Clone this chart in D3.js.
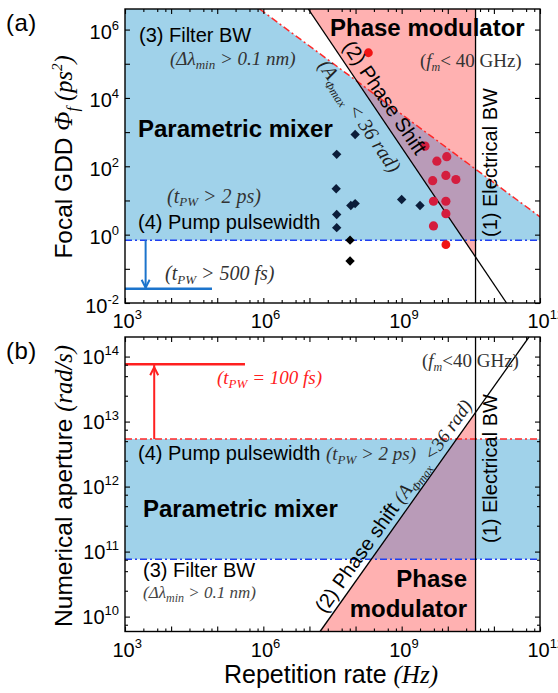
<!DOCTYPE html>
<html><head><meta charset="utf-8">
<script src="https://cdn.jsdelivr.net/npm/d3@7"></script>
<style>body{margin:0;background:#fff}svg{display:block}</style>
</head><body>
<svg id="c" width="558" height="693"></svg>
<script>
// ---------- data ----------
const xTickValues = [1e3, 1e6, 1e9, 1e12];
const xTickExp = ["3", "6", "9", "12"];
const yTicksA = [1e-2, 1e0, 1e2, 1e4, 1e6];
const yTicksAExp = ["-2", "0", "2", "4", "6"];
const yTicksB = [1e10, 1e11, 1e12, 1e13, 1e14];
const yTicksBExp = ["10", "11", "12", "13", "14"];

// boundaries (panel a: focal GDD in ps^2, panel b: numerical aperture in rad/s)
const electricalBW = 4e10;            // (1) f_m < 40 GHz
const phaseGDDk = Math.pow(10, 20.55); // (2) GDD = k / f^2
const filterGDDk = Math.pow(10, 12.52);// (3) GDD = k / f
const pumpGDD = 0.68;                  // (4) t_PW > 2 ps
const pumpGDD500fs = 0.026;            // t_PW > 500 fs
const phaseNAk = Math.pow(10, 2.54);   // (2) NA = k * f
const filterNA = 7.6e10;               // (3)
const pumpNA = 5.4e12;                 // (4) t_PW > 2 ps
const pumpNA100fs = 7.6e13;            // t_PW = 100 fs
const arrowRateA = 2.8e3, lineEndA = 7.7e4;
const arrowRateB = 4.3e3, lineEndB = 4e5;

// parametric mixer experiments (diamonds)
const mixerRate = [9.8e7, 3.9e7, 3.8e7, 7.9e7, 9.8e7, 3.9e7, 3.9e7, 1.0e9, 2.5e9];
const mixerGDD  = [851, 224, 22, 7.1, 8.1, 3.9, 1.6, 10.7, 7.1];
const mixerLowRate = [7.6e7, 7.6e7];
const mixerLowGDD  = [0.69, 0.17];
// phase modulator experiments (circles)
const modRate = [3.2e9, 5.8e9, 9.5e9, 4.7e9, 9.1e9, 1.5e10, 4.9e9, 9.1e9, 9.1e9, 4.9e9];
const modGDD  = [389, 141, 191, 38, 54, 41, 9.5, 9.5, 4.1, 1.8];
const modBrightRate = [1.9e8, 9.1e9];
const modBrightGDD  = [2.1e5, 0.51];

// ---------- styles ----------
const SANS = "'Liberation Sans', Arial, sans-serif";
const SERIF = "'Liberation Serif', 'Times New Roman', serif";
const BLUE = "#a0d2ea", PINK = "#ffb1b1", PURPLE = "#b99bb8";
const DASHBLUE = "#1f3ff0", DASHRED = "#ff2828";
const DASH = "7,3,2,3";

const svg = d3.select("#c");

function rich(t, segs) {
  let cur = 0;
  segs.forEach(s => {
    const ts = t.append("tspan").text(s.t);
    const off = s.sub ? (s.off ?? 5) : s.sup ? -(s.off ?? 8) : 0;
    if (off !== cur) ts.attr("dy", off - cur);
    cur = off;
    if (s.f) ts.attr("font-family", s.f);
    if (s.i) ts.attr("font-style", "italic");
    if (s.n) ts.attr("font-style", "normal");
    if (s.s) ts.attr("font-size", s.s);
    if (s.w) ts.attr("font-weight", s.w);
    if (s.c) ts.attr("fill", s.c);
  });
  return t;
}
function label(g, x, y, segs, o = {}) {
  const t = g.append("text")
    .attr("font-family", o.f || SANS).attr("font-size", o.s || 20)
    .attr("fill", o.c || "#000");
  if (o.rot !== undefined) t.attr("transform", `translate(${x},${y}) rotate(${o.rot})`);
  else t.attr("x", x).attr("y", y);
  if (o.w) t.attr("font-weight", o.w);
  if (o.i) t.attr("font-style", "italic");
  if (o.anchor) t.attr("text-anchor", o.anchor);
  if (o.ls) t.attr("letter-spacing", o.ls);
  return rich(t, segs);
}
function alongText(g, p1, p2, dist, off, segs, o = {}) {
  const a = Math.atan2(p2[1] - p1[1], p2[0] - p1[0]);
  const ux = Math.cos(a), uy = Math.sin(a), vx = Math.sin(a), vy = -Math.cos(a);
  const x = p1[0] + ux * dist + vx * off, y = p1[1] + uy * dist + vy * off;
  return label(g, x, y, segs, Object.assign({}, o, {rot: a * 180 / Math.PI}));
}
const line = d3.line();

function axes(g, x, y, labelVals, labelExp, yLabelShift, yMinor) {
  const [x0, x1] = x.range(), [yb, yt] = y.range();
  const xDec = d3.range(3, 13).map(e => Math.pow(10, e));
  const xMin = d3.range(3, 12).flatMap(e => [2.5, 5, 7.5].map(m => m * Math.pow(10, e)));
  const ld = Math.log10(y.domain()[0]), hd = Math.log10(y.domain()[1]);
  const yDec = d3.range(Math.ceil(ld), Math.floor(hd) + 1).map(e => Math.pow(10, e));
  const yMin = yMinor ? d3.range(Math.floor(ld), Math.ceil(hd)).flatMap(e => [2.5, 5, 7.5].map(m => m * Math.pow(10, e))).filter(v => v > y.domain()[0] && v < y.domain()[1]) : [];
  const ax = [
    [d3.axisBottom(x).tickValues(xDec).tickSizeInner(-5), `translate(0,${yb})`],
    [d3.axisBottom(x).tickValues(xMin).tickSizeInner(-3), `translate(0,${yb})`],
    [d3.axisTop(x).tickValues(xDec).tickSizeInner(-5), `translate(0,${yt})`],
    [d3.axisTop(x).tickValues(xMin).tickSizeInner(-3), `translate(0,${yt})`],
    [d3.axisLeft(y).tickValues(yDec).tickSizeInner(-5), `translate(${x0},0)`],
    [d3.axisRight(y).tickValues(yDec).tickSizeInner(-5), `translate(${x1},0)`],
    [d3.axisLeft(y).tickValues(yMin).tickSizeInner(-3), `translate(${x0},0)`],
    [d3.axisRight(y).tickValues(yMin).tickSizeInner(-3), `translate(${x1},0)`]
  ];
  ax.forEach(([a, tr]) => {
    const gg = g.append("g").attr("transform", tr).call(a.tickSizeOuter(0).tickFormat(""));
    gg.select(".domain").remove();
    gg.selectAll(".tick line").attr("stroke", "#000").attr("stroke-width", 1.1);
  });
  // x labels
  const gx = g.append("g").attr("transform", `translate(0,${yb})`)
    .call(d3.axisBottom(x).tickValues(xTickValues).tickSize(0).tickFormat(""));
  gx.select(".domain").remove();
  gx.selectAll(".tick text").each(function(d) {
    const t = d3.select(this).text(null).attr("y", 25).attr("dy", null).attr("x", -13)
      .attr("text-anchor", "start").attr("font-family", SANS).attr("font-size", 20).attr("fill", "#000");
    t.append("tspan").text("10");
    t.append("tspan").attr("dy", -9).attr("font-size", 13).text(xTickExp[xTickValues.indexOf(d)]);
  });
  // y labels
  const gy = g.append("g").attr("transform", `translate(${x0},0)`)
    .call(d3.axisLeft(y).tickValues(labelVals).tickSize(0).tickFormat(""));
  gy.select(".domain").remove();
  gy.selectAll(".tick text").each(function(d) {
    const t = d3.select(this).text(null).attr("y", yLabelShift).attr("dy", null).attr("x", -6)
      .attr("text-anchor", "end").attr("font-family", SANS).attr("font-size", 20).attr("fill", "#000");
    t.append("tspan").text("10");
    t.append("tspan").attr("dy", -9).attr("font-size", 13).text(labelExp[labelVals.indexOf(d)]);
  });
  g.append("rect").attr("x", x0).attr("y", yt).attr("width", x1 - x0).attr("height", yb - yt)
    .attr("fill", "none").attr("stroke", "#000").attr("stroke-width", 1.4);
}

// ================= PANEL A =================
const xA = d3.scaleLog().domain([1e3, 1e12]).range([125, 540]);
const yA = d3.scaleLog().domain([1e-2, 4e6]).range([303, 9]);
const gA = svg.append("g");
const defs = svg.append("defs");
defs.append("clipPath").attr("id", "clipA").append("rect")
  .attr("x", 125).attr("y", 9).attr("width", 415).attr("height", 294);
const [aYmin, aYmax] = yA.domain(), [aXmin, aXmax] = xA.domain();
const fTopFilter = filterGDDk / aYmax;
const fTopPhase = Math.sqrt(phaseGDDk / aYmax);
const fBotPhase = Math.sqrt(phaseGDDk / aYmin);
const P = (f, v) => [xA(f), yA(v)];
const blueA = [P(aXmin, aYmax), P(fTopFilter, aYmax), P(aXmax, filterGDDk / aXmax), P(aXmax, pumpGDD), P(aXmin, pumpGDD)];
const pinkA = [P(fTopPhase, aYmax), P(electricalBW, aYmax), P(electricalBW, phaseGDDk / electricalBW / electricalBW)];
defs.append("clipPath").attr("id", "blueA").append("path").attr("d", line(blueA) + "Z");
const pa = gA.append("g").attr("clip-path", "url(#clipA)");
pa.append("path").attr("d", line(blueA) + "Z").attr("fill", BLUE);
pa.append("path").attr("d", line(pinkA) + "Z").attr("fill", PINK);
pa.append("path").attr("d", line(pinkA) + "Z").attr("fill", PURPLE).attr("clip-path", "url(#blueA)");
// boundary lines
pa.append("path").attr("d", line([P(fTopFilter, aYmax), P(aXmax, filterGDDk / aXmax)]))
  .attr("stroke", DASHRED).attr("stroke-width", 1.5).attr("stroke-dasharray", DASH).attr("fill", "none");
pa.append("path").attr("d", line([P(aXmin, pumpGDD), P(aXmax, pumpGDD)]))
  .attr("stroke", DASHBLUE).attr("stroke-width", 1.5).attr("stroke-dasharray", DASH).attr("fill", "none");
const phaseA1 = P(fTopPhase, aYmax), phaseA2 = P(fBotPhase, aYmin);
pa.append("path").attr("d", line([phaseA1, phaseA2])).attr("stroke", "#000").attr("stroke-width", 1.3).attr("fill", "none");
pa.append("path").attr("d", line([P(electricalBW, aYmin), P(electricalBW, aYmax)])).attr("stroke", "#000").attr("stroke-width", 1.3);
// 500 fs arrow
const arrowBlue = "#1c74cc";
pa.append("path").attr("d", line([P(aXmin, pumpGDD500fs), P(lineEndA, pumpGDD500fs)])).attr("stroke", arrowBlue).attr("stroke-width", 2.5);
pa.append("path").attr("d", line([P(arrowRateA, pumpGDD), P(arrowRateA, pumpGDD500fs)])).attr("stroke", arrowBlue).attr("stroke-width", 2);
{
  const [ax, ay] = P(arrowRateA, pumpGDD500fs);
  pa.append("path").attr("d", `M${ax - 4},${ay - 9}L${ax},${ay - 1}L${ax + 4},${ay - 9}`)
    .attr("stroke", arrowBlue).attr("stroke-width", 2).attr("fill", "none");
}
// markers
const diamond = d3.symbol().type(d3.symbolSquare).size(44);
pa.selectAll(".dm").data(mixerRate.map((r, i) => [r, mixerGDD[i]])).join("path")
  .attr("d", diamond).attr("fill", "#0b1d3a")
  .attr("transform", d => `translate(${xA(d[0])},${yA(d[1])}) rotate(45)`);
pa.selectAll(".dl").data(mixerLowRate.map((r, i) => [r, mixerLowGDD[i]])).join("path")
  .attr("d", diamond).attr("fill", "#000")
  .attr("transform", d => `translate(${xA(d[0])},${yA(d[1])}) rotate(45)`);
pa.selectAll(".cm").data(modRate.map((r, i) => [r, modGDD[i]])).join("circle")
  .attr("cx", d => xA(d[0])).attr("cy", d => yA(d[1])).attr("r", 4.6).attr("fill", "#d41d3e");
pa.selectAll(".cb").data(modBrightRate.map((r, i) => [r, modBrightGDD[i]])).join("circle")
  .attr("cx", d => xA(d[0])).attr("cy", d => yA(d[1])).attr("r", 4.4).attr("fill", "#f01414");

// texts panel A
label(gA, 6, 31, [{t: "(a)"}], {s: 24, ls: 0.5});
label(gA, 72, 157, [
  {t: "Focal GDD "},
  {t: "Φ", f: SERIF, i: true, s: 25},
  {t: "f", f: SERIF, i: true, s: 16, sub: true, off: 6},
  {t: " (ps", f: SERIF, i: true},
  {t: "2", f: SERIF, i: true, s: 15, sup: true, off: 10},
  {t: ")", f: SERIF, i: true}
], {s: 24.5, rot: -90, anchor: "middle"});
label(gA, 139, 42, [{t: "(3) Filter BW"}]);
label(gA, 170, 65, [{t: "(Δλ"}, {t: "min", s: 13, sub: true, off: 4}, {t: " > 0.1 nm)"}], {f: SERIF, i: true, s: 19, c: "#333"});
label(gA, 138, 137, [{t: "Parametric mixer"}], {w: "bold", s: 24});
label(gA, 167, 203, [{t: "(t"}, {t: "PW", s: 13, sub: true, off: 3}, {t: " > 2 ps)"}], {f: SERIF, i: true, s: 20, c: "#333"});
label(gA, 138, 229, [{t: "(4) Pump pulsewidth"}]);
label(gA, 165, 280, [{t: "(t"}, {t: "PW", s: 13, sub: true, off: 4}, {t: " > 500 fs)"}], {f: SERIF, i: true, s: 20, c: "#333"});
label(gA, 330, 36, [{t: "Phase modulator"}], {w: "bold", s: 24});
label(gA, 420, 67, [{t: "("}, {t: "f", i: true}, {t: "m", i: true, s: 12, sub: true, off: 4}, {t: "< 40 GHz)"}], {f: SERIF, s: 19, c: "#333"});
label(gA, 497, 237, [{t: "(1) Electrical BW"}], {rot: -90});
alongText(gA, phaseA1, phaseA2, 50, 7, [{t: "(2) Phase Shift"}], {s: 20});
alongText(gA, phaseA1, phaseA2, 52, -24, [
  {t: "(A"}, {t: "Φmax", s: 12, sub: true, off: 5}, {t: " < 36 rad)"}
], {f: SERIF, i: true, s: 20, c: "#222"});
axes(gA, xA, yA, yTicksA, yTicksAExp, 9, false);

// ================= PANEL B =================
const xB = d3.scaleLog().domain([1e3, 1e12]).range([125, 540]);
const yB = d3.scaleLog().domain([5.9e9, 2e14]).range([631.5, 337]);
const gB = svg.append("g");
defs.append("clipPath").attr("id", "clipB").append("rect")
  .attr("x", 125).attr("y", 337).attr("width", 415).attr("height", 294.5);
const [bYmin, bYmax] = yB.domain(), [bXmin, bXmax] = xB.domain();
const Q = (f, v) => [xB(f), yB(v)];
const fBotPhaseB = bYmin / phaseNAk, fTopPhaseB = bYmax / phaseNAk;
const blueB = [Q(bXmin, filterNA), Q(bXmax, filterNA), Q(bXmax, pumpNA), Q(bXmin, pumpNA)];
const pinkB = [Q(fBotPhaseB, bYmin), Q(electricalBW, bYmin), Q(electricalBW, phaseNAk * electricalBW)];
defs.append("clipPath").attr("id", "blueB").append("path").attr("d", line(blueB) + "Z");
const pb = gB.append("g").attr("clip-path", "url(#clipB)");
pb.append("path").attr("d", line(blueB) + "Z").attr("fill", BLUE);
pb.append("path").attr("d", line(pinkB) + "Z").attr("fill", PINK);
pb.append("path").attr("d", line(pinkB) + "Z").attr("fill", PURPLE).attr("clip-path", "url(#blueB)");
pb.append("path").attr("d", line([Q(bXmin, pumpNA), Q(bXmax, pumpNA)]))
  .attr("stroke", DASHRED).attr("stroke-width", 1.5).attr("stroke-dasharray", DASH).attr("fill", "none");
pb.append("path").attr("d", line([Q(bXmin, filterNA), Q(bXmax, filterNA)]))
  .attr("stroke", DASHBLUE).attr("stroke-width", 1.5).attr("stroke-dasharray", DASH).attr("fill", "none");
const phaseB1 = Q(fBotPhaseB, bYmin), phaseB2 = Q(fTopPhaseB, bYmax);
pb.append("path").attr("d", line([phaseB1, phaseB2])).attr("stroke", "#000").attr("stroke-width", 1.3).attr("fill", "none");
pb.append("path").attr("d", line([Q(electricalBW, bYmin), Q(electricalBW, bYmax)])).attr("stroke", "#000").attr("stroke-width", 1.3);
const arrowRed = "#ff2020";
pb.append("path").attr("d", line([Q(bXmin, pumpNA100fs), Q(lineEndB, pumpNA100fs)])).attr("stroke", arrowRed).attr("stroke-width", 2.5);
pb.append("path").attr("d", line([Q(arrowRateB, pumpNA), Q(arrowRateB, pumpNA100fs)])).attr("stroke", arrowRed).attr("stroke-width", 2);
{
  const [ax, ay] = Q(arrowRateB, pumpNA100fs);
  pb.append("path").attr("d", `M${ax - 4},${ay + 11}L${ax},${ay + 3}L${ax + 4},${ay + 11}`)
    .attr("stroke", arrowRed).attr("stroke-width", 2).attr("fill", "none");
}
label(gB, 6, 359, [{t: "(b)"}], {s: 24, ls: 0.5});
label(gB, 72, 486, [
  {t: "Numerical aperture "},
  {t: "(rad/s)", f: SERIF, i: true}
], {s: 24.5, rot: -90, anchor: "middle"});
label(gB, 217, 384, [{t: "(t"}, {t: "PW", s: 13, sub: true, off: 4}, {t: " = 100 fs)"}], {f: SERIF, i: true, s: 19, c: "#ff2020"});
label(gB, 422, 367, [{t: "("}, {t: "f", i: true}, {t: "m", i: true, s: 12, sub: true, off: 4}, {t: "<40 GHz)"}], {f: SERIF, s: 19, c: "#333"});
label(gB, 138, 460, [
  {t: "(4) Pump pulsewidth "},
  {t: "(t", f: SERIF, i: true, s: 19, c: "#333"}, {t: "PW", f: SERIF, i: true, s: 13, c: "#333", sub: true, off: 4},
  {t: " > 2 ps)", f: SERIF, i: true, s: 19, c: "#333"}
]);
label(gB, 143, 517, [{t: "Parametric mixer"}], {w: "bold", s: 24});
label(gB, 143, 577, [{t: "(3) Filter BW"}]);
label(gB, 143, 598, [{t: "(Δλ"}, {t: "min", s: 12, sub: true, off: 4}, {t: " > 0.1 nm)"}], {f: SERIF, i: true, s: 17, c: "#444"});
label(gB, 467, 587, [{t: "Phase"}], {w: "bold", s: 24, anchor: "end"});
label(gB, 467, 617, [{t: "modulator"}], {w: "bold", s: 24, anchor: "end"});
label(gB, 497, 543, [{t: "(1) Electrical BW"}], {rot: -90});
alongText(gB, phaseB1, phaseB2, 17, 6, [
  {t: "(2) Phase shift "},
  {t: "(A", f: SERIF, i: true, s: 19, c: "#222"},
  {t: "Φmax", f: SERIF, i: true, s: 12, c: "#222", sub: true, off: 5},
  {t: " <36 rad)", f: SERIF, i: true, s: 19, c: "#222"}
], {s: 20});
axes(gB, xB, yB, yTicksB, yTicksBExp, 7, true);
label(svg, 331, 683, [{t: "Repetition rate "}, {t: "(Hz)", f: SERIF, i: true}], {s: 25, anchor: "middle"});
</script>
</body></html>
